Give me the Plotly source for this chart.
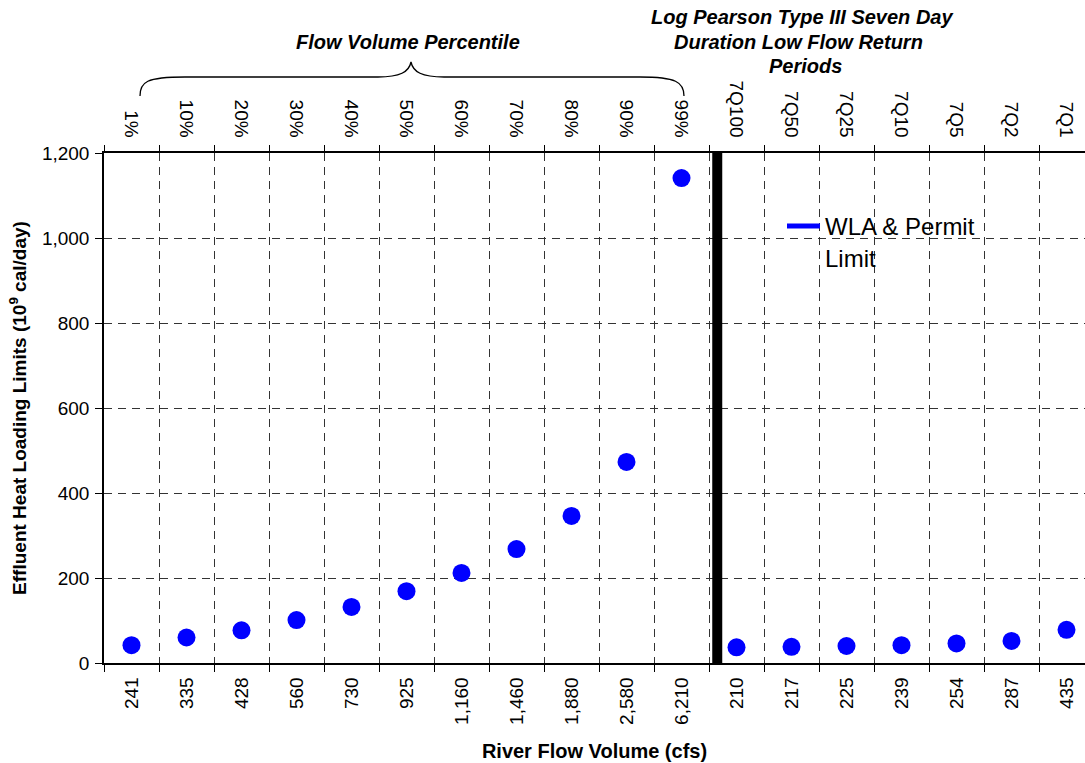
import plotly.graph_objects as go

# ---- data ----
flow_labels = ["241", "335", "428", "560", "730", "925", "1,160", "1,460", "1,880", "2,580", "6,210",
               "210", "217", "225", "239", "254", "287", "435"]
period_labels = ["1%", "10%", "20%", "30%", "40%", "50%", "60%", "70%", "80%", "90%", "99%",
                 "7Q100", "7Q50", "7Q25", "7Q10", "7Q5", "7Q2", "7Q1"]
heat_limits = [42, 60, 77, 101, 132, 169, 212, 268, 346, 473, 1141,
               37, 38, 40, 42, 46, 52, 78]
y_ticks = [0, 200, 400, 600, 800, 1000, 1200]
series_name = "WLA & Permit<br>Limit"
group_titles = ["Flow Volume Percentile",
                "Log Pearson Type III Seven Day", "Duration Low Flow Return", "Periods"]

FONT = "Arial, Liberation Sans, sans-serif"
W, H = 1085, 763
L, R, T, B = 104, 0, 153, 100
PW = W - L - R
PH = H - T - B
XR = [-0.5, 17.5 - 9 / 55]


def px(x):  # page x -> paper
    return (x - L) / PW


def py(y):  # page y -> paper
    return (H - B - y) / PH


fig = go.Figure()

fig.add_trace(go.Scatter(
    x=flow_labels, y=heat_limits, mode="markers",
    marker=dict(size=18, color="#0000FF", line=dict(width=0)),
    showlegend=False, hoverinfo="x+y"))

# invisible trace that carries the top-axis category labels
fig.add_trace(go.Scatter(
    x=period_labels, y=heat_limits, mode="markers", xaxis="x2",
    marker=dict(size=1, opacity=0), showlegend=False, hoverinfo="skip"))

# legend entry (line symbol as in the original)
fig.add_trace(go.Scatter(
    x=[None], y=[None], mode="lines", name=series_name,
    line=dict(color="#0000FF", width=5)))

grid = dict(showgrid=True, gridcolor="#333333", gridwidth=1, griddash="8px,6px")

fig.update_layout(
    width=W, height=H,
    margin=dict(l=L, r=R, t=T, b=B, autoexpand=False),
    paper_bgcolor="white", plot_bgcolor="white",
    font=dict(family=FONT, color="black", size=19),
    xaxis=dict(
        type="category", categoryorder="array", categoryarray=flow_labels,
        range=XR, tickson="boundaries", ticks="outside", ticklen=7, tickcolor="black",
        tickangle=-90, tickfont=dict(size=19), ticklabelstandoff=5,
        showline=True, linecolor="black", linewidth=1.5,
        title=dict(text="<b>River Flow Volume (cfs)</b>", font=dict(size=20), standoff=20),
        automargin=False, zeroline=False, **grid),
    xaxis2=dict(
        type="category", categoryorder="array", categoryarray=period_labels,
        overlaying="x", side="top", anchor="y",
        range=XR, tickson="boundaries", ticks="outside", ticklen=6, tickcolor="black",
        tickangle=90, tickfont=dict(size=19), ticklabelstandoff=7,
        showline=True, linecolor="black", linewidth=1.5,
        showgrid=False, automargin=False, zeroline=False),
    yaxis=dict(
        range=[0, 1200], tickvals=y_ticks, tickformat=",", ticks="outside", ticklen=7,
        tickcolor="black", tickfont=dict(size=19), ticklabelstandoff=2,
        showline=True, linecolor="black", linewidth=1.5,
        title=dict(text="<b>Effluent Heat Loading Limits (10<sup>9</sup> cal/day)</b>",
                   font=dict(size=19), standoff=10),
        automargin=False, zeroline=False, **grid),
    legend=dict(
        x=px(782), y=py(204), xanchor="left", yanchor="top", valign="top",
        bgcolor="rgba(0,0,0,0)", font=dict(size=24, family=FONT), itemwidth=33),
    showlegend=True,
)

# white legend backdrop covering the grid
fig.add_shape(type="rect", xref="paper", yref="paper",
              x0=px(786), x1=px(1041), y0=py(272), y1=py(200),
              fillcolor="white", line=dict(width=0), layer="between")

# thick separator between the percentile and return-period groups
fig.add_shape(type="line", xref="x", yref="y", x0=10.65, x1=10.65, y0=0, y1=1200,
              line=dict(color="black", width=10), layer="above")

# curly brace over the percentile labels
brace = ("M {a},{b} C {a},{c} {d},{e} {f},{e} L {g},{e} C {h},{e} {i},{j} {k},{l} "
         "C {m},{j} {n},{e} {o},{e} L {p},{e} C {q},{e} {r},{c} {r},{b}").format(
    a=px(140), b=py(96), c=py(82), d=px(146), e=py(77), f=px(185),
    g=px(378), h=px(400), i=px(409), j=py(72), k=px(411), l=py(62),
    m=px(413), n=px(422), o=px(444),
    p=px(640), q=px(676), r=px(684))
fig.add_shape(type="path", xref="paper", yref="paper", path=brace,
              line=dict(color="black", width=1.3))

title_pos = [(408, 42), (802, 17), (798, 42), (805, 66)]
for txt, (tx, ty) in zip(group_titles, title_pos):
    fig.add_annotation(xref="paper", yref="paper", x=px(tx), y=py(ty),
                       text="<b><i>" + txt + "</i></b>", showarrow=False,
                       font=dict(size=20, family=FONT), xanchor="center", yanchor="middle")

fig.write_html("out.html", config={"displayModeBar": False},
               post_script="document.body.style.margin='0px';")
